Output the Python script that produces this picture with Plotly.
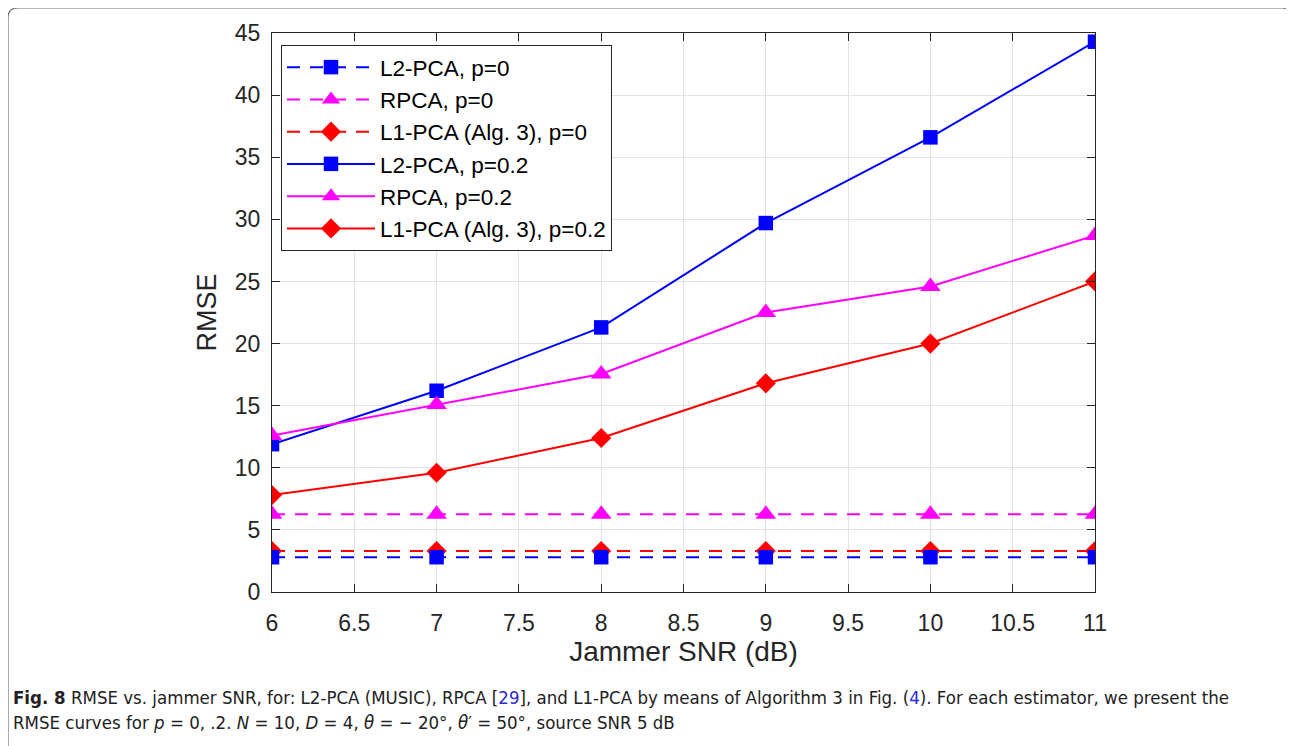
import plotly.graph_objects as go

snr = [6, 7, 8, 9, 10, 11]
l2_p0 = [2.8, 2.8, 2.8, 2.8, 2.8, 2.8]
rpca_p0 = [6.25, 6.25, 6.25, 6.25, 6.25, 6.25]
l1_p0 = [3.3, 3.3, 3.3, 3.3, 3.3, 3.3]
l2_p02 = [11.9, 16.2, 21.3, 29.7, 36.6, 44.3]
rpca_p02 = [12.6, 15.1, 17.55, 22.5, 24.6, 28.7]
l1_p02 = [7.8, 9.6, 12.4, 16.8, 20.0, 25.0]

x_ticks = [6, 6.5, 7, 7.5, 8, 8.5, 9, 9.5, 10, 10.5, 11]
y_ticks = [0, 5, 10, 15, 20, 25, 30, 35, 40, 45]

BLUE = "#0000ff"
MAG = "#ff00ff"
RED = "#ff0000"
DASH = "13px,10px"

# (name, values, colour, symbol, size, dash, legend rank)
series = [
    ("RPCA, p=0", rpca_p0, MAG, "triangle-up", 18, DASH, 2),
    ("L1-PCA (Alg. 3), p=0", l1_p0, RED, "diamond", 15.5, DASH, 3),
    ("L2-PCA, p=0", l2_p0, BLUE, "square", 14.5, DASH, 1),
    ("L2-PCA, p=0.2", l2_p02, BLUE, "square", 14.5, "solid", 4),
    ("RPCA, p=0.2", rpca_p02, MAG, "triangle-up", 18, "solid", 5),
    ("L1-PCA (Alg. 3), p=0.2", l1_p02, RED, "diamond", 15.5, "solid", 6),
]

FONT = "Liberation Sans, Arial, Helvetica, sans-serif"

fig = go.Figure()
for name, ys, col, sym, sz, dash, rank in series:
    fig.add_trace(go.Scatter(
        x=snr, y=ys, name=name, mode="lines+markers",
        line=dict(color=col, width=2, dash=dash),
        marker=dict(symbol=sym, size=sz, color=col, line=dict(width=0)),
        legendgroup=f"g{rank}", legendrank=rank,
    ))

OFF = 8  # browser body margin
W, H = 1294 - OFF, 746 - OFF
L, R, T, B = 272 - OFF, 1095 - OFF, 33 - OFF, 592 - OFF
pw, ph = R - L, B - T


def px(x):
    return (x - OFF - L) / pw


def py(y):
    return (B - (y - OFF)) / ph


axis_common = dict(
    showline=True, linecolor="#262626", linewidth=1, mirror="ticks",
    ticks="inside", ticklen=8, tickcolor="#262626",
    showgrid=True, gridcolor="#e3e3e3", gridwidth=1,
    zeroline=False,
    tickfont=dict(family=FONT, size=23, color="#262626"),
)

fig.update_layout(
    width=W, height=H,
    margin=dict(l=L, r=W - R, t=T, b=H - B),
    paper_bgcolor="white", plot_bgcolor="white",
    showlegend=True,
    legend=dict(
        x=px(281), y=py(45), xanchor="left", yanchor="top",
        bgcolor="white", bordercolor="#262626", borderwidth=1,
        font=dict(family=FONT, size=22.5, color="#000000"),
        tracegroupgap=3, itemwidth=88, traceorder="normal",
    ),
    xaxis=dict(range=[6, 11], tickvals=x_ticks, ticktext=[f"{v:g}" for v in x_ticks],
               ticklabelstandoff=10,
               title=dict(text="Jammer SNR (dB)", standoff=3,
                          font=dict(family=FONT, size=28, color="#262626")),
               **axis_common),
    yaxis=dict(range=[0, 45], tickvals=y_ticks, ticktext=[str(v) for v in y_ticks],
               ticklabelstandoff=6,
               title=dict(text="RMSE", standoff=10,
                          font=dict(family=FONT, size=27, color="#262626")),
               **axis_common),
)

# outer rounded frame of the figure panel
x0, x1 = px(8), px(1292)
y1, y0 = py(8), py(780)
rx = 10 / pw
ry = 10 / ph
path = (f"M {x0+rx},{y1} L {x1-rx},{y1} Q {x1},{y1} {x1},{y1-ry} "
        f"L {x1},{y0} L {x0},{y0} L {x0},{y1-ry} Q {x0},{y1} {x0+rx},{y1} Z")
fig.add_shape(type="path", xref="paper", yref="paper", path=path,
              line=dict(color="#707070", width=1.2), fillcolor="rgba(0,0,0,0)", layer="below")

cap_font = dict(family="DejaVu Sans Condensed, Roboto, sans-serif", size=18.5, color="#222222")
LINK = "#2a2ad8"
line1 = ("<b>Fig. 8</b> RMSE vs. jammer SNR, for: L2-PCA (MUSIC), RPCA "
         f"[<span style='color:{LINK}'>29</span>], and L1-PCA by means of Algorithm 3 in Fig. "
         f"(<span style='color:{LINK}'>4</span>). For each estimator, we present the")
line2 = ("RMSE curves for <i>p</i> = 0, .2. <i>N</i> = 10, <i>D</i> = 4, <i>θ</i> = − 20°, "
         "<i>θ</i>′ = 50°, source SNR 5 dB")
fig.add_annotation(text=line1, xref="paper", yref="paper", x=px(11), y=py(697),
                   xanchor="left", yanchor="middle", showarrow=False, font=cap_font, align="left")
fig.add_annotation(text=line2, xref="paper", yref="paper", x=px(11), y=py(722),
                   xanchor="left", yanchor="middle", showarrow=False, font=cap_font, align="left")

fig.write_html("out.html")
